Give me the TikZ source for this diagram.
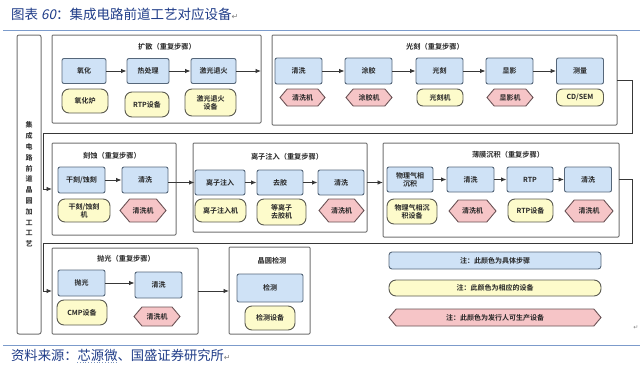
\documentclass[tikz,border=0pt]{standalone}
\usepackage{fontspec}
\usetikzlibrary{shapes.symbols,arrows.meta}
\newfontfamily\cjk{Noto Sans CJK SC}
\newfontfamily\cjkb{Noto Sans CJK SC Bold}
\newfontfamily\cjkit{Noto Sans CJK SC}[FakeSlant=0.2]
\newfontfamily\symf{DejaVu Sans}
\definecolor{bluefill}{HTML}{CFE2F6}
\definecolor{blueedge}{HTML}{56677A}
\definecolor{yelfill}{HTML}{FDFBCB}
\definecolor{yeledge}{HTML}{5A5A50}
\definecolor{pinkfill}{HTML}{F6C5C7}
\definecolor{pinkedge}{HTML}{6A5255}
\definecolor{grpedge}{HTML}{707070}
\definecolor{titleblue}{HTML}{1F3C88}
\definecolor{ruleblue}{HTML}{7C9BCB}
\definecolor{arr}{HTML}{383838}
\begin{document}
\begin{tikzpicture}[x=1pt,y=-1pt,
 every node/.style={font=\cjkb\fontsize{7}{8.2}\selectfont, text=black!85, inner sep=1pt},
 stepbox/.style={draw=blueedge, fill=bluefill, rounded corners=2pt, line width=0.9pt, minimum width=47pt, minimum height=26pt, align=center},
 devbox/.style={draw=yeledge, fill=yelfill, rounded corners=7pt, line width=0.9pt, minimum width=46pt, minimum height=23pt, align=center},
 makerbox/.style={draw=pinkedge, fill=pinkfill, shape=signal, signal to=east and west, signal pointer angle=100, line width=0.9pt, minimum width=46pt, minimum height=22pt, align=center},
 grp/.style={draw=grpedge, line width=1pt, anchor=north west, inner sep=0pt, outer sep=0pt, rounded corners=1pt},
 flow/.style={draw=arr, line width=0.9pt, -{Latex[length=5.5pt,width=4.5pt]}},
 grptitle/.style={font=\cjkb\fontsize{7.2}{8}\selectfont}
]
\useasboundingbox (0,0) rectangle (640,375);
% title and rules
\node[anchor=west, font=\cjk\fontsize{13.5}{15}\selectfont, text=titleblue] (title) at (10,14) {图表 {\cjkit 60}：集成电路前道工艺对应设备{\symf\fontsize{8}{8}\selectfont\color{gray}↵}};
\draw[ruleblue, line width=1pt] (3,30) -- (640,30);
\draw[ruleblue, line width=1pt] (3,345) -- (640,345);
\node[anchor=west, font=\cjk\fontsize{13.3}{15}\selectfont, text=titleblue] (foot) at (10,355) {资料来源：芯源微、国盛证券研究所{\symf\fontsize{8}{8}\selectfont\color{gray}↵}};
\draw[ruleblue!80!gray, line width=0.8pt, dotted] (77,362) -- (117,362);
\node[font=\symf\fontsize{6}{6}\selectfont, text=gray] (ret) at (636,328) {↵};

% side box
\node[grp, rounded corners=2pt, minimum width=24pt, minimum height=299pt, align=center, font=\cjkb\fontsize{7}{10.8}\selectfont] (side) at (17,35) {集\\成\\电\\路\\前\\道\\晶\\圆\\加\\工\\工\\艺};

% group boxes
\node[grp, minimum width=209pt, minimum height=88pt] (g1) at (52,35) {};
\node[grp, minimum width=345pt, minimum height=90pt] (g2) at (272,35) {};
\node[grp, minimum width=124pt, minimum height=92pt] (g3) at (52,143) {};
\node[grp, minimum width=174pt, minimum height=89pt] (g4) at (193,143) {};
\node[grp, minimum width=236pt, minimum height=94pt] (g5) at (383,143) {};
\node[grp, minimum width=146pt, minimum height=86pt] (g6) at (52,248) {};
\node[grp, minimum width=81pt, minimum height=87pt] (g7) at (229,247) {};

% group titles
\node[grptitle] (t1) at (167,47) {扩散（重复步骤）};
\node[grptitle] (t2) at (435,47) {光刻（重复步骤）};
\node[grptitle] (t3) at (112,156) {刻蚀（重复步骤）};
\node[grptitle] (t4) at (287,157) {离子注入（重复步骤）};
\node[grptitle] (t5) at (508,155) {薄膜沉积（重复步骤）};
\node[grptitle] (t6) at (126,259) {抛光（重复步骤）};
\node[grptitle] (t7) at (272,261) {晶圆检测};

% row 1: diffusion
\node[stepbox, minimum width=44pt, minimum height=25pt] (a1) at (84,71) {氧化};
\node[stepbox, minimum width=42pt, minimum height=25pt] (a2) at (148,71) {热处理};
\node[stepbox, minimum width=45pt, minimum height=25pt] (a3) at (213.5,71) {激光退火};
\node[devbox, minimum width=46pt, minimum height=24pt] (a1d) at (85,101) {氧化炉};
\node[devbox, minimum width=44pt, minimum height=25pt] (a2d) at (147,104.5) {RTP设备};
\node[devbox, minimum width=51pt, minimum height=27pt] (a3d) at (210.5,102.5) {激光退火\\设备};

% row 1: lithography
\node[stepbox] (b1) at (298.5,71) {清洗};
\node[stepbox] (b2) at (368.5,71) {涂胶};
\node[stepbox] (b3) at (439.5,71) {光刻};
\node[stepbox] (b4) at (509.5,71) {显影};
\node[stepbox] (b5) at (580,71) {测量};
\node[makerbox, minimum width=45pt, minimum height=17pt] (b1d) at (302.5,97.5) {清洗机};
\node[makerbox, minimum width=46pt, minimum height=17pt] (b2d) at (369,97.5) {涂胶机};
\node[devbox, minimum width=46pt, minimum height=17pt, rounded corners=6pt] (b3d) at (440,97.5) {光刻机};
\node[makerbox, minimum width=46pt, minimum height=17pt] (b4d) at (510,97.5) {显影机};
\node[devbox, minimum width=47pt, minimum height=17pt, rounded corners=6pt] (b5d) at (580,97.5) {CD/SEM};

% row 2: etching
\node[stepbox, minimum width=47pt] (c1) at (81.5,180) {干刻/蚀刻};
\node[stepbox, minimum width=46pt] (c2) at (145,180) {清洗};
\node[devbox, minimum width=52pt, minimum height=23pt] (c1d) at (84,210.5) {干刻/蚀刻\\机};
\node[makerbox, minimum width=46pt, minimum height=23pt] (c2d) at (143,210.5) {清洗机};

% row 2: ion implantation
\node[stepbox, minimum width=50pt, minimum height=25pt] (d1) at (220,182.5) {离子注入};
\node[stepbox, minimum width=46pt, minimum height=25pt] (d2) at (280,182.5) {去胶};
\node[stepbox, minimum width=46pt, minimum height=25pt] (d3) at (341,182.5) {清洗};
\node[devbox, minimum width=51pt, minimum height=23pt] (d1d) at (220.5,210.5) {离子注入机};
\node[devbox, minimum width=49pt, minimum height=26pt] (d2d) at (281.5,212) {等离子\\去胶机};
\node[makerbox, minimum width=45pt, minimum height=23pt] (d3d) at (341.5,210.5) {清洗机};

% row 2: thin film
\node[stepbox, minimum width=46pt, minimum height=25pt] (e1) at (410,179.5) {物理气相\\沉积};
\node[stepbox, minimum width=47pt, minimum height=25pt] (e2) at (470.5,179.5) {清洗};
\node[stepbox, minimum width=46pt, minimum height=25pt] (e3) at (530,179.5) {RTP};
\node[stepbox, minimum width=47pt, minimum height=25pt] (e4) at (588,179.5) {清洗};
\node[devbox, minimum width=50pt, minimum height=25pt] (e1d) at (412,211.5) {物理气相沉\\积设备};
\node[makerbox, minimum width=47pt, minimum height=22pt] (e2d) at (472.5,211) {清洗机};
\node[devbox, minimum width=45pt, minimum height=23pt] (e3d) at (530.5,210.5) {RTP设备};
\node[makerbox, minimum width=48pt, minimum height=22pt] (e4d) at (589,211) {清洗机};

% row 3: polishing
\node[stepbox, minimum width=47pt, minimum height=26pt] (f1) at (81.5,283) {抛光};
\node[stepbox, minimum width=47pt, minimum height=26pt] (f2) at (158.5,285) {清洗};
\node[devbox, minimum width=50pt, minimum height=25pt] (f1d) at (82,312.5) {CMP设备};
\node[makerbox, minimum width=46pt, minimum height=19pt] (f2d) at (157,316.5) {清洗机};

% row 3: inspection
\node[stepbox, minimum width=66pt, minimum height=28pt] (h1) at (270,288) {检测};
\node[devbox, minimum width=50pt, minimum height=24pt] (h1d) at (270,318) {检测设备};

% legend
\node[stepbox, minimum width=212pt, minimum height=17pt, rounded corners=3pt] (L1) at (495,260.5) {注：此颜色为具体步骤};
\node[devbox, minimum width=212pt, minimum height=16pt, rounded corners=7pt] (L2) at (495,288) {注：此颜色为相应的设备};
\node[makerbox, minimum width=212pt, minimum height=17pt] (L3) at (495,317.5) {注：此颜色为发行人可生产设备};

% connectors
\coordinate (j1) at (632,133);
\coordinate (j2) at (43,133);
\coordinate (j3) at (632,243);
\coordinate (j4) at (43,243);

\draw[flow] (a1) -- (a2);
\draw[flow] (a2) -- (a3);
\draw[flow] (a3.east) -- (a3.east -| g1.east);
\draw[flow] (b1) -- (b2);
\draw[flow] (b2) -- (b3);
\draw[flow] (b3) -- (b4);
\draw[flow] (b4) -- (b5);
\draw[flow] (g2.east) -| (j1) -- (j2) |- (g3.west);

\draw[flow] (c1) -- (c2);
\draw[flow] (c2.east |- d1) -- (d1.west);
\draw[flow] (d1) -- (d2);
\draw[flow] (d2) -- (d3);
\draw[flow] (g4.east |- d3) -- (g5.west |- d3);
\draw[flow] (e1) -- (e2);
\draw[flow] (e2) -- (e3);
\draw[flow] (e3) -- (e4);
\draw[flow] (g5.east |- e4) -| (j3) -- (j4) |- (g6.west);

\draw[flow] (f1.east) -- (f1.east -| f2.west);
\draw[flow] (g6.east) -- (g6.east -| g7.west);
\end{tikzpicture}
\end{document}
